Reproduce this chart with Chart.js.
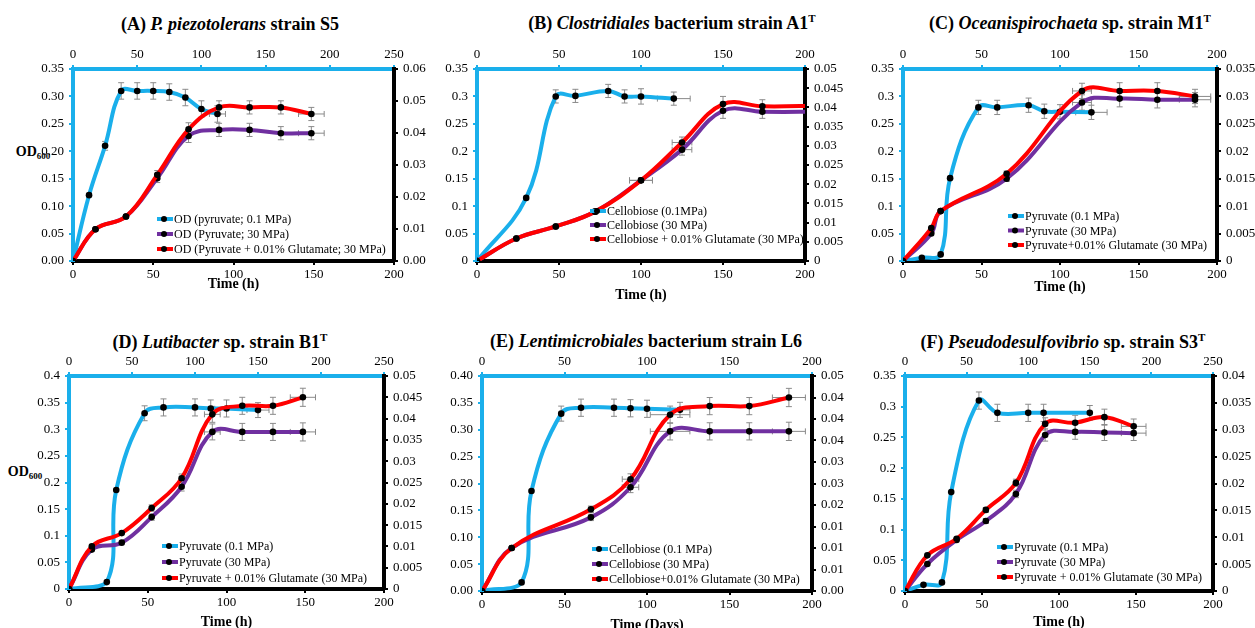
<!DOCTYPE html>
<html>
<head>
<meta charset="utf-8">
<script src="https://cdn.jsdelivr.net/npm/chart.js@4.4.0/dist/chart.umd.min.js"></script>
<style>
  body { margin: 0; background: #fff; }
  #wrap { position: relative; width: 1255px; height: 628px; overflow: hidden; background: #fff;
          font-family: 'Liberation Serif', 'Times New Roman', serif; color: #000; }
  canvas { position: absolute; }
  .ttl { position: absolute; transform: translate(-50%, -50%); font-weight: bold; font-size: 18px; white-space: nowrap; }
  .ttl sup { font-size: 11px; vertical-align: 7px; line-height: 0; }
  .ylab { position: absolute; transform: translate(-50%, -50%); font-weight: bold; font-size: 14px; white-space: nowrap; }
  .ylab sub { font-size: 9px; vertical-align: -3px; line-height: 0; }
</style>
</head>
<body>
<div id="wrap">
  <div class="ttl" style="left:230px;top:24px">(A) <i>P. piezotolerans</i> strain S5</div>
  <div class="ttl" style="left:672px;top:23px">(B) <i>Clostridiales</i> bacterium strain A1<sup>T</sup></div>
  <div class="ttl" style="left:1070px;top:23px">(C) <i>Oceanispirochaeta</i> sp. strain M1<sup>T</sup></div>
  <div class="ttl" style="left:220px;top:342px">(D) <i>Lutibacter</i> sp. strain B1<sup>T</sup></div>
  <div class="ttl" style="left:646px;top:341px">(E) <i>Lentimicrobiales</i> bacterium strain L6</div>
  <div class="ttl" style="left:1063px;top:342px">(F) <i>Pseudodesulfovibrio</i> sp. strain S3<sup>T</sup></div>
  <div class="ylab" style="left:33px;top:152px">OD<sub>600</sub></div>
  <div class="ylab" style="left:25px;top:472px">OD<sub>600</sub></div>
  <canvas id="cA"></canvas>
  <canvas id="cB"></canvas>
  <canvas id="cC"></canvas>
  <canvas id="cD"></canvas>
  <canvas id="cE"></canvas>
  <canvas id="cF"></canvas>
</div>
<script>
const CYAN = '#1AAFEB', PURPLE = '#7030A0', RED = '#FF0000';
const FONT = 'Liberation Serif';
Chart.defaults.font.family = FONT;
Chart.defaults.font.size = 13;
Chart.defaults.color = '#000';

// (A) P. piezotolerans S5
const aTimeCyan = [0, 10, 20, 30, 40, 50, 60, 70, 80, 90];
const aCyan     = [0, 0.12, 0.21, 0.31, 0.31, 0.31, 0.308, 0.298, 0.277, 0.268];
const aCyanErr  = [0, 0, 0.008, 0.015, 0.015, 0.015, 0.015, 0.015, 0.015, 0.015];
const aCyanXErr = [0, 0, 0, 0, 0, 0, 0, 0, 0, 5];
const aTime30   = [0, 14, 33, 52.5, 72, 91, 110, 129.5, 148.5];
const aPurple   = [0, 0.058, 0.081, 0.151, 0.228, 0.239, 0.239, 0.233, 0.233];
const aRed      = [0, 0.058, 0.081, 0.157, 0.24, 0.28, 0.28, 0.28, 0.268];
const aErr30    = [0, 0, 0, 0.008, 0.012, 0.012, 0.012, 0.012, 0.012];
const aXErr30   = [0, 0, 0, 0, 0, 0, 0, 0, 8];

// (B) Clostridiales A1T
const bTimeCyan = [0, 30, 48, 60, 80, 90, 100, 120];
const bCyan     = [0, 0.115, 0.3, 0.301, 0.31, 0.3, 0.3, 0.296];
const bCyanErr  = [0, 0, 0.012, 0.012, 0.012, 0.012, 0.014, 0.012];
const bCyanXErr = [0, 0, 0, 0, 0, 0, 0, 10];
const bTime30   = [0, 24, 48, 72, 100, 125, 150, 174, 210];
const bPurple   = [0, 0.041, 0.063, 0.09, 0.147, 0.203, 0.274, 0.272, 0.272];
const bRed      = [0, 0.041, 0.063, 0.09, 0.147, 0.216, 0.286, 0.282, 0.283];
const bErr30    = [0, 0, 0, 0.004, 0.004, 0.01, 0.014, 0.012, 0];
const bXErr30   = [0, 0, 0, 0, 7, 6, 0, 0, 0];

// (C) Oceanispirochaeta M1T
const cTimeCyan = [0, 12, 24, 30, 48, 60, 80, 90, 100, 120];
const cCyan     = [0, 0.006, 0.012, 0.151, 0.28, 0.28, 0.284, 0.273, 0.272, 0.271];
const cCyanErr  = [0, 0, 0, 0, 0.013, 0.013, 0.013, 0.013, 0.013, 0.013];
const cCyanXErr = [0, 0, 0, 0, 0, 0, 0, 0, 0, 10];
const cTime30   = [0, 18, 24, 66, 114, 138, 162, 186];
const cPurple   = [0, 0.05, 0.091, 0.15, 0.289, 0.296, 0.294, 0.294];
const cRed      = [0, 0.06, 0.091, 0.159, 0.31, 0.31, 0.31, 0.3];
const cErr30    = [0, 0, 0, 0.005, 0.014, 0.015, 0.015, 0.013];
const cXErr30   = [0, 0, 0, 0, 6, 0, 0, 10];

// (D) Lutibacter B1T
const dTimeCyan = [0, 24, 30, 48, 60, 80, 90, 100, 120];
const dCyan     = [0, 0.013, 0.186, 0.33, 0.341, 0.341, 0.339, 0.339, 0.336];
const dCyanErr  = [0, 0, 0, 0.014, 0.016, 0.016, 0.016, 0.016, 0.014];
const dCyanXErr = [0, 0, 0, 0, 0, 0, 0, 0, 7];
const dTime30   = [0, 14.5, 33.5, 52.5, 71.5, 91, 110, 129.5, 148.5];
const dPurple   = [0, 0.074, 0.087, 0.135, 0.192, 0.295, 0.295, 0.295, 0.295];
const dRed      = [0, 0.08, 0.105, 0.152, 0.208, 0.328, 0.344, 0.344, 0.36];
const dErr30    = [0, 0, 0, 0.006, 0.008, 0.015, 0.016, 0.016, 0.017];
const dXErr30   = [0, 0, 0, 0, 0, 5, 0, 0, 8];

// (E) Lentimicrobiales L6
const eTimeCyan = [0, 24, 30, 48, 60, 80, 90, 100, 120];
const eCyan     = [0, 0.016, 0.186, 0.33, 0.341, 0.341, 0.34, 0.339, 0.337];
const eCyanErr  = [0, 0, 0, 0.014, 0.016, 0.016, 0.016, 0.016, 0.014];
const eCyanXErr = [0, 0, 0, 0, 0, 0, 0, 0, 6];
const eTime30   = [0, 18, 66, 90, 114, 138, 162, 186];
const ePurple   = [0, 0.08, 0.137, 0.193, 0.297, 0.297, 0.297, 0.297];
const eRed      = [0, 0.08, 0.152, 0.208, 0.328, 0.344, 0.344, 0.36];
const eErr30    = [0, 0, 0.006, 0.01, 0.016, 0.016, 0.016, 0.017];
const eXErr30   = [0, 0, 0, 5, 12, 0, 0, 10];

// (F) Pseudodesulfovibrio S3T
const fTimeCyan = [0, 12, 24, 30, 48, 60, 80, 90, 120];
const fCyan     = [0, 0.01, 0.014, 0.161, 0.31, 0.29, 0.29, 0.29, 0.29];
const fCyanErr  = [0, 0, 0, 0, 0.014, 0.014, 0.014, 0.014, 0.012];
const fCyanXErr = [0, 0, 0, 0, 0, 0, 0, 0, 0];
const fTime30   = [0, 14.5, 33.5, 52.5, 72, 91, 110.5, 129.5, 148.5];
const fPurple   = [0, 0.044, 0.083, 0.114, 0.158, 0.254, 0.259, 0.258, 0.257];
const fRed      = [0, 0.058, 0.085, 0.132, 0.176, 0.272, 0.274, 0.283, 0.268];
const fErr30    = [0, 0, 0, 0.004, 0.006, 0.01, 0.012, 0.013, 0.012];
const fXErr30   = [0, 0, 0, 0, 0, 0, 0, 0, 8];

const pts = (xs, ys) => xs.map((x, i) => ({ x: x, y: ys[i] }));

function series(label, color, xs, ys, err, xerr, order) {
  return {
    label: label, data: pts(xs, ys), errY: err, errX: xerr,
    borderColor: color, backgroundColor: color, borderWidth: 4,
    tension: 0.4, order: order,
    pointRadius: c => (c.raw && c.raw.x > 200 ? 0 : 3.3),
    pointBackgroundColor: '#000', pointBorderColor: '#000', pointBorderWidth: 0,
    xAxisID: 'x', yAxisID: 'y'
  };
}

// gray error bars, drawn under the lines
const errorBars = {
  id: 'errorBars',
  beforeDatasetsDraw(chart) {
    const ctx = chart.ctx, xs = chart.scales.x, ys = chart.scales.y;
    ctx.save();
    ctx.strokeStyle = '#8a8a8a';
    ctx.lineWidth = 1;
    chart.data.datasets.forEach(ds => {
      ds.data.forEach((p, i) => {
        if (p.x > 200) return;
        const px = xs.getPixelForValue(p.x), py = ys.getPixelForValue(p.y);
        const e = ds.errY ? ds.errY[i] : 0, h = ds.errX ? ds.errX[i] : 0;
        ctx.beginPath();
        if (e) {
          const t = ys.getPixelForValue(p.y + e), b = ys.getPixelForValue(p.y - e);
          ctx.moveTo(px, t); ctx.lineTo(px, b);
          ctx.moveTo(px - 3, t); ctx.lineTo(px + 3, t);
          ctx.moveTo(px - 3, b); ctx.lineTo(px + 3, b);
        }
        if (h) {
          const l = xs.getPixelForValue(p.x - h), r = xs.getPixelForValue(p.x + h);
          ctx.moveTo(l, py); ctx.lineTo(r, py);
          ctx.moveTo(l, py - 3); ctx.lineTo(l, py + 3);
          ctx.moveTo(r, py - 3); ctx.lineTo(r, py + 3);
        }
        ctx.stroke();
      });
    });
    ctx.restore();
  }
};

// legend drawn inside the plot area, Excel style
const insideLegend = {
  id: 'insideLegend',
  afterDatasetsDraw(chart, args, opts) {
    const ctx = chart.ctx, area = chart.chartArea;
    ctx.save();
    ctx.font = opts.size + 'px "' + FONT + '", serif';
    ctx.textBaseline = 'middle';
    chart.data.datasets.forEach((ds, i) => {
      const x = area.left + opts.x, y = area.top + opts.y + i * opts.row;
      ctx.strokeStyle = ds.borderColor;
      ctx.lineWidth = 4;
      ctx.beginPath(); ctx.moveTo(x, y); ctx.lineTo(x + 16, y); ctx.stroke();
      ctx.fillStyle = '#000';
      ctx.beginPath(); ctx.arc(x + 7, y, 3, 0, Math.PI * 2); ctx.fill();
      ctx.fillText(ds.label, x + 17, y + 1);
    });
    ctx.restore();
  }
};

const LEFT_W = 60, RIGHT_W = 50, TOP_H = 30;

function makePanel(p) {
  const cv = document.getElementById(p.id);
  const w = p.box[1] - p.box[0] + LEFT_W + RIGHT_W;
  const h = p.box[3] - p.box[2] + TOP_H + p.bottomH;
  cv.width = w; cv.height = h;
  cv.style.left = (p.box[0] - LEFT_W) + 'px';
  cv.style.top = (p.box[2] - TOP_H) + 'px';

  const tickFont = { family: FONT, size: 13 };
  const fmt = p.fixed ? (v => v.toFixed(2)) : (v => String(+v.toFixed(4)));

  new Chart(cv, {
    type: 'line',
    data: {
      datasets: [
        series(p.labels[0], CYAN, p.cyan[0], p.cyan[1], p.cyan[2], p.cyan[3], 3),
        series(p.labels[1], PURPLE, p.t30, p.purple, p.err30, p.xerr30, 2),
        series(p.labels[2], RED, p.t30, p.red, p.err30, p.xerr30, 1)
      ]
    },
    options: {
      responsive: false,
      animation: false,
      layout: { padding: 0 },
      plugins: {
        legend: { display: false },
        tooltip: { enabled: false },
        insideLegend: p.legend
      },
      scales: {
        x: {
          type: 'linear', position: 'bottom', min: 0, max: 200,
          ticks: { stepSize: 50, font: tickFont, color: '#000', padding: 2, maxRotation: 0, autoSkip: false },
          grid: { drawOnChartArea: false, color: '#000', lineWidth: 2, tickLength: 4 },
          border: { color: '#000', width: 4 },
          title: { display: true, text: p.xTitle, color: '#000', padding: 0,
                   font: { family: FONT, size: 14, weight: 'bold' } },
          afterFit: s => { s.height = p.bottomH; }
        },
        x2: {
          type: 'linear', position: 'top', min: 0, max: p.x2Max,
          ticks: { stepSize: 50, font: tickFont, color: '#000', padding: 3, maxRotation: 0, autoSkip: false },
          grid: { drawOnChartArea: false, color: CYAN, lineWidth: 2, tickLength: 4 },
          border: { color: CYAN, width: 4 },
          afterFit: s => { s.height = TOP_H; }
        },
        y: {
          position: 'left', min: 0, max: p.yMax,
          ticks: { stepSize: 0.05, font: tickFont, color: '#000', padding: 5, autoSkip: false, callback: fmt },
          grid: { drawOnChartArea: false, color: CYAN, lineWidth: 2, tickLength: 4 },
          border: { color: CYAN, width: 4 },
          afterFit: s => { s.width = LEFT_W; }
        },
        y2: {
          position: 'right', min: 0, max: p.y2Max,
          ticks: { stepSize: p.y2Step, font: tickFont, color: '#000', padding: 5, autoSkip: false, callback: fmt },
          grid: { drawOnChartArea: false, color: '#000', lineWidth: 2, tickLength: 4 },
          border: { color: '#000', width: 4 },
          afterFit: s => { s.width = RIGHT_W; }
        }
      }
    },
    plugins: [errorBars, insideLegend]
  });
}

makePanel({
  id: 'cA', box: [73, 394, 69, 261], bottomH: 32, x2Max: 250, yMax: 0.35, y2Max: 0.06, y2Step: 0.01, fixed: true,
  xTitle: 'Time (h)',
  labels: ['OD (pyruvate; 0.1 MPa)', 'OD (Pyruvate; 30 MPa)', 'OD (Pyruvate + 0.01% Glutamate; 30 MPa)'],
  cyan: [aTimeCyan, aCyan, aCyanErr, aCyanXErr], t30: aTime30, purple: aPurple, red: aRed, err30: aErr30, xerr30: aXErr30,
  legend: { x: 84, y: 150, row: 15, size: 12 }
});
makePanel({
  id: 'cB', box: [477, 805, 69, 261], bottomH: 43, x2Max: 200, yMax: 0.35, y2Max: 0.05, y2Step: 0.005, fixed: false,
  xTitle: 'Time (h)',
  labels: ['Cellobiose (0.1MPa)', 'Cellobiose (30 MPa)', 'Cellobiose + 0.01% Glutamate (30 MPa)'],
  cyan: [bTimeCyan, bCyan, bCyanErr, bCyanXErr], t30: bTime30, purple: bPurple, red: bRed, err30: bErr30, xerr30: bXErr30,
  legend: { x: 113, y: 142, row: 14, size: 12 }
});
makePanel({
  id: 'cC', box: [903, 1217, 69, 261], bottomH: 35, x2Max: 200, yMax: 0.35, y2Max: 0.035, y2Step: 0.005, fixed: false,
  xTitle: 'Time (h)',
  labels: ['Pyruvate (0.1 MPa)', 'Pyruvate (30 MPa)', 'Pyruvate+0.01% Glutamate (30 MPa)'],
  cyan: [cTimeCyan, cCyan, cCyanErr, cCyanXErr], t30: cTime30, purple: cPurple, red: cRed, err30: cErr30, xerr30: cXErr30,
  legend: { x: 105, y: 147, row: 14.5, size: 12 }
});
makePanel({
  id: 'cD', box: [69, 384, 376, 589], bottomH: 42, x2Max: 250, yMax: 0.4, y2Max: 0.05, y2Step: 0.005, fixed: false,
  xTitle: 'Time (h)',
  labels: ['Pyruvate (0.1 MPa)', 'Pyruvate (30 MPa)', 'Pyruvate + 0.01% Glutamate (30 MPa)'],
  cyan: [dTimeCyan, dCyan, dCyanErr, dCyanXErr], t30: dTime30, purple: dPurple, red: dRed, err30: dErr30, xerr30: dXErr30,
  legend: { x: 93, y: 170, row: 16, size: 12 }
});
makePanel({
  id: 'cE', box: [482, 812, 376, 591], bottomH: 43, x2Max: 200, yMax: 0.4, y2Max: 0.05, y2Step: 0.005, fixed: true,
  xTitle: 'Time (Days)',
  labels: ['Cellobiose (0.1 MPa)', 'Cellobiose (30 MPa)', 'Cellobiose+0.01% Glutamate (30 MPa)'],
  cyan: [eTimeCyan, eCyan, eCyanErr, eCyanXErr], t30: eTime30, purple: ePurple, red: eRed, err30: eErr30, xerr30: eXErr30,
  legend: { x: 110, y: 173, row: 15, size: 12 }
});
makePanel({
  id: 'cF', box: [905, 1213, 376, 591], bottomH: 40, x2Max: 250, yMax: 0.35, y2Max: 0.04, y2Step: 0.005, fixed: false,
  xTitle: 'Time (h)',
  labels: ['Pyruvate (0.1 MPa)', 'Pyruvate (30 MPa)', 'Pyruvate + 0.01% Glutamate (30 MPa)'],
  cyan: [fTimeCyan, fCyan, fCyanErr, fCyanXErr], t30: fTime30, purple: fPurple, red: fRed, err30: fErr30, xerr30: fXErr30,
  legend: { x: 92, y: 171, row: 15, size: 12 }
});
</script>
</body>
</html>
